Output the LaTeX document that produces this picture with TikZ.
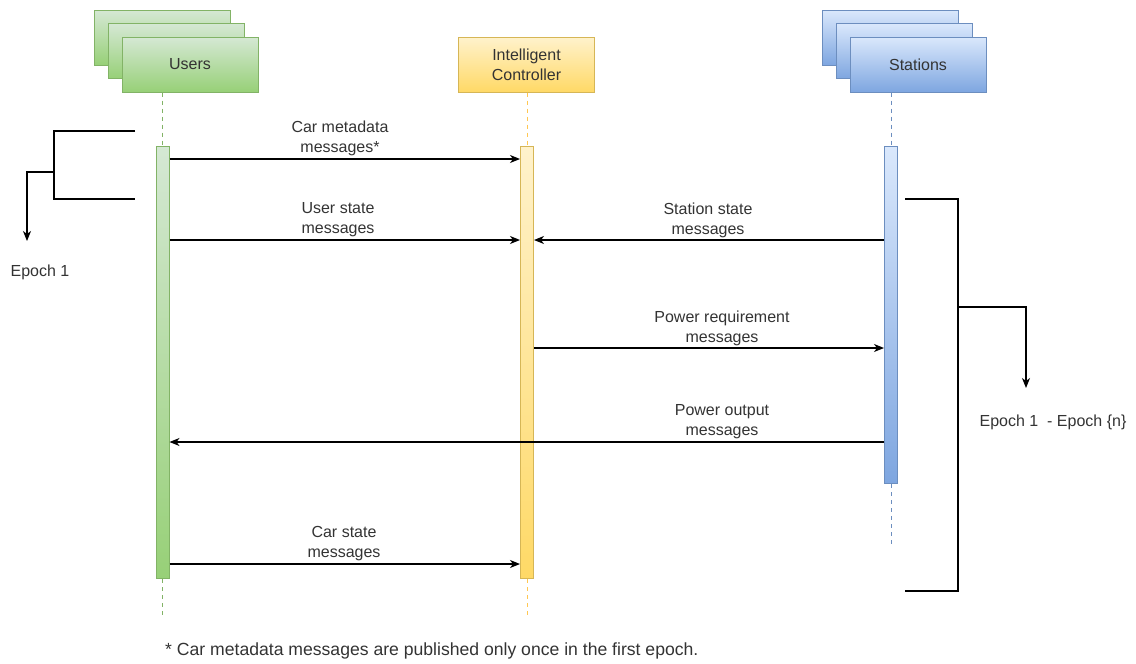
\documentclass[tikz,border=0pt]{standalone}
\usepackage{fontspec}
\setmainfont{Liberation Sans}
\usetikzlibrary{arrows.meta,calc}
\definecolor{txt}{HTML}{333333}
\definecolor{gtop}{HTML}{D5E8D4}\definecolor{gbot}{HTML}{97D077}\definecolor{gbrd}{HTML}{82B366}
\definecolor{ytop}{HTML}{FFF2CC}\definecolor{ybot}{HTML}{FFD966}\definecolor{ybrd}{HTML}{D6B656}
\definecolor{btop}{HTML}{DAE8FC}\definecolor{bbot}{HTML}{7EA6E0}\definecolor{bbrd}{HTML}{6C8EBF}
\tikzset{
  base/.style={font=\fontsize{16}{20}\selectfont, text=txt},
  actor/.style={base, draw, line width=1pt, minimum width=136pt, minimum height=55pt, inner sep=0pt, align=center},
  gbox/.style={actor, draw=gbrd, top color=gtop, bottom color=gbot},
  ybox/.style={actor, draw=ybrd, top color=ytop, bottom color=ybot},
  bbox/.style={actor, draw=bbrd, top color=btop, bottom color=bbot},
  bar/.style={draw, line width=1pt, minimum width=13pt, inner sep=0pt, anchor=north},
  life/.style={dashed, dash pattern=on 4pt off 4pt, line width=1pt},
  msg/.style={line width=1.2pt, -{Stealth[length=10pt,width=8pt,inset=3pt]}},
  lbl/.style={base, align=center, inner sep=0pt},
  brk/.style={line width=1.2pt},
}
\begin{document}
\begin{tikzpicture}[x=1pt,y=-1pt]
\useasboundingbox (0,0) rectangle (1136,664);
% Users stack
\node[gbox] (u3) at (162.5,37.5) {};
\node[gbox] (u2) at (176,51) {};
\node[gbox] (u1) at (190,64.5) {Users};
% Controller
\node[ybox] (c1) at (526.5,64.5) {Intelligent\\Controller};
% Stations stack
\node[bbox] (s3) at (890.5,37.5) {};
\node[bbox] (s2) at (904.5,51) {};
\node[bbox] (s1) at (918,64.5) {Stations};
% activation bars
\node[bar, draw=gbrd, top color=gtop, bottom color=gbot, minimum height=432pt] (ub) at (162.5,146) {};
\node[bar, draw=ybrd, top color=ytop, bottom color=ybot, minimum height=432pt] (cb) at (527,146) {};
\node[bar, draw=bbrd, top color=btop, bottom color=bbot, minimum height=337pt] (sb) at (891,146) {};
% lifeline ends
\coordinate (ue) at (162.5,618);
\coordinate (ce) at (527,615);
\coordinate (se) at (891,547);
\draw[life, draw=gbrd] (ub.north |- u1.south) -- (ub.north);
\draw[life, draw=gbrd] (ub.south) -- (ue);
\draw[life, draw=ybot!80!orange] (cb.north |- c1.south) -- (cb.north);
\draw[life, draw=ybot!80!orange] (cb.south) -- (ce);
\draw[life, draw=bbrd] (sb.north |- s1.south) -- (sb.north);
\draw[life, draw=bbrd] (sb.south) -- (se);
% message rows
\coordinate (y1) at (0,159);
\coordinate (y2) at (0,240);
\coordinate (y3) at (0,348);
\coordinate (y4) at (0,442);
\coordinate (y5) at (0,564);
\draw[msg] (ub.east |- y1) -- (cb.west |- y1);
\node[lbl] (l1) at (340,138) {Car metadata\\messages*};
\draw[msg] (ub.east |- y2) -- (cb.west |- y2);
\node[lbl] (l2) at (338,220) {User state\\messages};
\draw[msg] (sb.west |- y2) -- (cb.east |- y2);
\node[lbl] (l3) at (708,220) {Station state\\messages};
\draw[msg] (cb.east |- y3) -- (sb.west |- y3);
\node[lbl] (l4) at (722,328) {Power requirement\\messages};
\draw[msg] (sb.west |- y4) -- (ub.east |- y4);
\node[lbl] (l5) at (722,422) {Power output\\messages};
\draw[msg] (ub.east |- y5) -- (cb.west |- y5);
\node[lbl] (l6) at (344,544) {Car state\\messages};
% left bracket
\coordinate (la) at (135,131);
\coordinate (lb) at (135,199);
\coordinate (lm) at (54,172);
\node[base, inner sep=0pt] (e1) at (40,272) {Epoch 1};
\draw[brk] (la) -- (54,131) -- (54,199) -- (lb);
\draw[brk, -{Stealth[length=10pt,width=8pt,inset=3pt]}] (lm) -- (27,172) -- (27,241);
% right bracket
\coordinate (ra) at (905,199);
\coordinate (rb) at (905,591);
\coordinate (rm) at (958,307);
\node[base, inner sep=0pt] (e2) at (1053,422) {Epoch 1~ - Epoch \{n\}};
\draw[brk] (ra) -- (958,199) -- (958,591) -- (rb);
\draw[brk, -{Stealth[length=10pt,width=8pt,inset=3pt]}] (rm) -- (1026,307) -- (1026,388);
% footnote
\node[base, font=\fontsize{17.6}{20}\selectfont, anchor=west, inner sep=0pt] (fn) at (165,651) {* Car metadata messages are published only once in the first epoch.};
\end{tikzpicture}
\end{document}
